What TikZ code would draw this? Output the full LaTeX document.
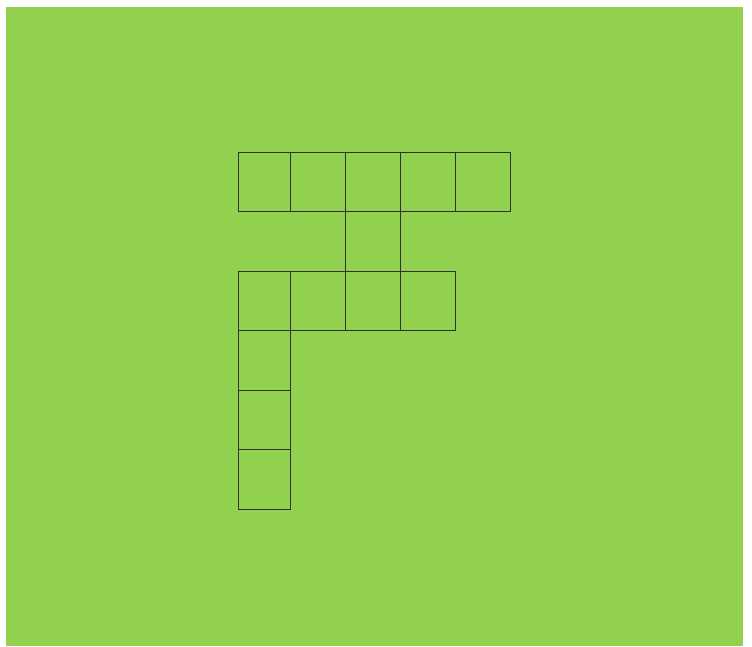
\documentclass[tikz,border=0pt]{standalone}
\usepackage{tikz}
\definecolor{leafgreen}{RGB}{146,208,80}
\definecolor{gridline}{RGB}{50,50,50}

\begin{document}
\begin{tikzpicture}[x=1pt,y=-1pt,
cell/.style={draw=gridline,line width=0.8pt,inner sep=0pt,outer sep=0pt,minimum width=55pt,minimum height=59.5pt},
narrowcell/.style={cell,minimum width=52pt}]
\useasboundingbox (0,0) rectangle (752,646);
\fill[leafgreen] (6,7) rectangle (743,646);

\node[narrowcell] (t1) at (264,181.75) {};
\node[cell] (t2) at (317.5,181.75) {};
\node[cell] (t3) at (372.5,181.75) {};
\node[cell] (t4) at (427.5,181.75) {};
\node[cell] (t5) at (482.5,181.75) {};

\node[cell] (m3) at (372.5,241.25) {};

\node[narrowcell] (b1) at (264,300.75) {};
\node[cell] (b2) at (317.5,300.75) {};
\node[cell] (b3) at (372.5,300.75) {};
\node[cell] (b4) at (427.5,300.75) {};

\node[narrowcell] (s1) at (264,360.25) {};
\node[narrowcell] (s2) at (264,419.75) {};
\node[narrowcell] (s3) at (264,479.25) {};
\end{tikzpicture}
\end{document}
